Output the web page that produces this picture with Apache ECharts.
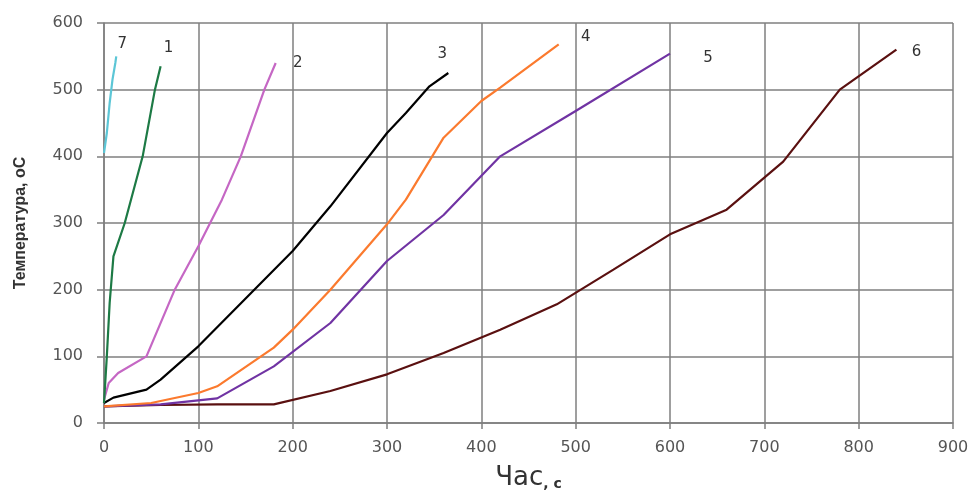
<!DOCTYPE html>
<html><head><meta charset="utf-8">
<script src="https://cdn.jsdelivr.net/npm/echarts@6/dist/echarts.min.js"></script>
<style>html,body{margin:0;padding:0;background:#fff}#c{width:975px;height:491px}</style>
</head><body><div id="c"></div>
<script>
const xTicks = [0,100,200,300,400,500,600,700,800,900];
const yTicks = [0,100,200,300,400,500,600];
const names = ['7','1','2','3','4','5','6'];
const s7 = [[0,405],[3,435],[6,480],[9,515],[12,540],[13,550]];
const s1 = [[0,30],[3,100],[6,180],[10,250],[22,300],[41,400],[54,500],[60,535]];
const s2 = [[0,35],[5,60],[15,75],[45,100],[75,200],[100,265],[125,335],[145,400],[170,500],[182,540]];
const s3 = [[0,30],[10,38],[45,50],[60,65],[100,115],[200,258],[240,325],[300,435],[320,465],[345,505],[365,525]];
const s4 = [[0,25],[50,30],[100,45],[120,55],[180,113],[200,140],[240,200],[300,298],[320,335],[360,428],[400,483],[420,503],[482,568]];
const s5 = [[0,25],[60,28],[120,37],[180,85],[240,150],[300,243],[360,312],[420,400],[500,468],[600,554]];
const s6 = [[0,25],[60,27],[120,28],[180,28],[240,48],[300,73],[360,105],[420,140],[480,178],[540,230],[600,283],[660,320],[720,392],[780,500],[840,560]];

const seriesData = [s7,s1,s2,s3,s4,s5,s6];
const colors = ['#5cc6d6','#1d7a45','#c567c4','#000000','#fb7a2e','#7033a3','#5a1010'];
const offsets = [[6,-12],[8,-18],[22,0],[-6,-19],[27,-7],[38,4],[20,2]];

const chart = echarts.init(document.getElementById('c'), null, {renderer:'canvas'});
chart.setOption({
  backgroundColor:'#fff',
  animation:false,
  grid:{left:104,right:22,top:23,bottom:68,containLabel:false,outerBoundsMode:'none'},
  xAxis:{type:'value',min:0,max:900,interval:100,
    name:'{a|Час}{b|, с}',nameLocation:'middle',nameGap:40,
    nameTextStyle:{rich:{
      a:{fontSize:26,color:'#333',fontFamily:'DejaVu Sans',lineHeight:28,verticalAlign:'bottom'},
      b:{fontSize:14,fontWeight:'bold',color:'#333',fontFamily:'DejaVu Sans',lineHeight:28,verticalAlign:'bottom'}}},
    axisLine:{show:true,lineStyle:{color:'#7f7f7f',width:1.5}},
    axisTick:{show:true,length:6,inside:false,lineStyle:{color:'#7f7f7f',width:1.5}},
    axisLabel:{fontSize:16,color:'#555',margin:17,fontFamily:'DejaVu Sans',formatter:v=>String(v)},
    splitLine:{show:true,lineStyle:{color:'#7f7f7f',width:1.5}}},
  yAxis:{type:'value',min:0,max:600,interval:100,
    name:'Температура, оС',nameLocation:'middle',nameGap:75,nameRotate:90,
    nameTextStyle:{fontSize:16,fontWeight:'bold',color:'#333',fontFamily:'Liberation Sans'},
    axisLine:{show:true,lineStyle:{color:'#7f7f7f',width:1.5}},
    axisTick:{show:true,length:7,lineStyle:{color:'#7f7f7f',width:1.5}},
    axisLabel:{fontSize:16,color:'#555',margin:21,fontFamily:'DejaVu Sans'},
    splitLine:{show:true,lineStyle:{color:'#7f7f7f',width:1.5}}},
  series: seriesData.map((d,i)=>({
    type:'line',name:names[i],data:d,showSymbol:false,symbol:'none',
    lineStyle:{color:colors[i],width:2.2},
    itemStyle:{color:colors[i]},
    z:10-i,
    endLabel:{show:true,formatter:p=>p.seriesName,position:'inside',distance:0,
      align:'center',verticalAlign:'middle',offset:offsets[i],
      fontSize:15,color:'#333',fontFamily:'DejaVu Sans'}
  }))
});
</script></body></html>
